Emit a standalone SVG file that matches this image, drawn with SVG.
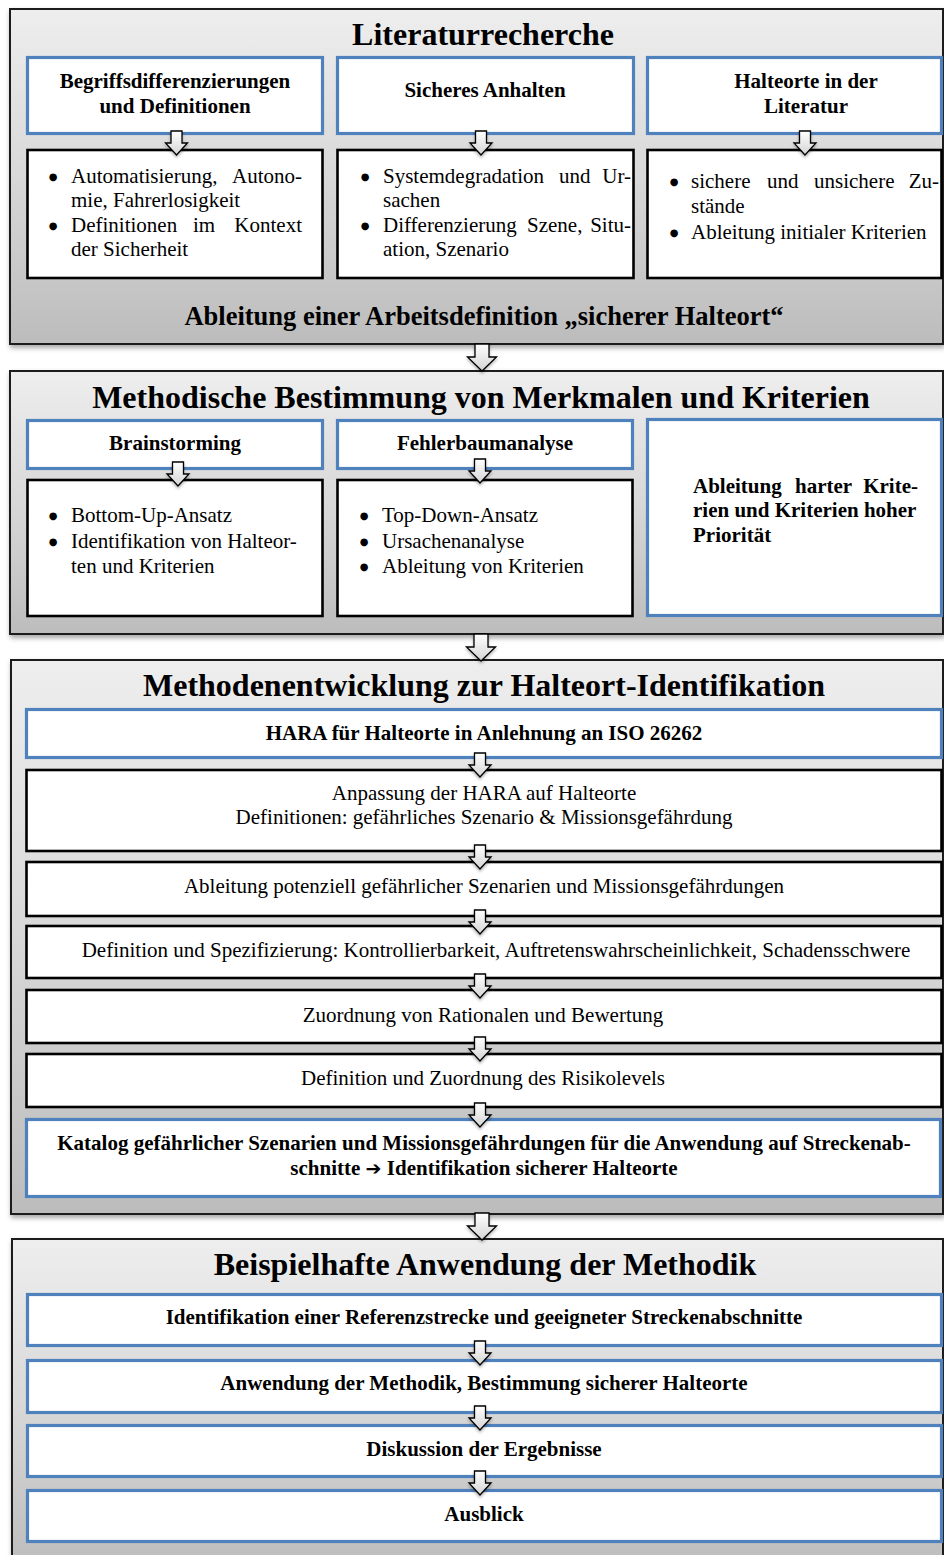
<svg xmlns="http://www.w3.org/2000/svg" xmlns:xlink="http://www.w3.org/1999/xlink" width="944" height="1555" viewBox="0 0 944 1555">
  <defs>
    <style>
      .t { font-family: "Liberation Serif", "Times New Roman", serif; fill: #000; }
      .h { font-size: 32px; font-weight: bold; text-anchor: middle; }
      .b { font-size: 21px; font-weight: bold; }
      .n { font-size: 21px; }
      .c { text-anchor: middle; }
      .e { text-anchor: end; }
      .bul { font-family: "DejaVu Sans", sans-serif; font-size: 10px; fill: #000; text-anchor: middle; }
      .sym { font-family: "DejaVu Sans", sans-serif; font-weight: bold; }
      .sec { fill: url(#secFill); stroke: #1a1a1a; stroke-width: 2; filter: url(#shadow); }
      .blue { fill: #fff; stroke: #4f81bd; stroke-width: 3.2; }
      .blk { fill: #fff; stroke: #000; stroke-width: 2.6; }
      .arr { fill: url(#arrFill); stroke: #000; stroke-width: 1.3; stroke-linejoin: miter; filter: url(#ashadow); }
    </style>
    <linearGradient id="secFill" x1="0" y1="0" x2="0" y2="1">
      <stop offset="0" stop-color="#eeeeee"/>
      <stop offset="0.5" stop-color="#d8d8d8"/>
      <stop offset="1" stop-color="#bcbcbc"/>
    </linearGradient>
    <linearGradient id="arrFill" x1="0" y1="0" x2="0" y2="1">
      <stop offset="0" stop-color="#ffffff"/>
      <stop offset="1" stop-color="#d4d4d4"/>
    </linearGradient>
    <filter id="shadow" x="-5%" y="-5%" width="110%" height="115%">
      <feDropShadow dx="1" dy="3" stdDeviation="2.5" flood-color="#000" flood-opacity="0.35"/>
    </filter>
    <filter id="ashadow" x="-50%" y="-30%" width="200%" height="170%">
      <feDropShadow dx="0" dy="2" stdDeviation="1.5" flood-color="#000" flood-opacity="0.3"/>
    </filter>
    <path id="arrS" class="arr" d="M-5.5,0H5.5V12H11L0,24L-11,12H-5.5Z"/>
    <path id="arrL" class="arr" d="M-7,0H7V13H14.5L0,27L-14.5,13H-7Z"/>
  </defs>

  <rect width="944" height="1555" fill="#fff"/>

  <!-- Section 1: literature review -->
  <g id="sec-literatur">
    <rect class="sec" x="10" y="9" width="933" height="335"/>
    <text class="t h" x="483" y="45">Literaturrecherche</text>
    <text class="t b c" x="484" y="325" style="font-size:26.5px">Ableitung einer Arbeitsdefinition „sicherer Halteort“</text>
  </g>

  <g id="lit-begriffe">
    <rect class="blue" x="27.5" y="57.5" width="295" height="76"/>
    <text class="t b c" x="175" y="88">Begriffsdifferenzierungen</text>
    <text class="t b c" x="175" y="113">und Definitionen</text>
  </g>
  <g id="lit-begriffe-detail">
    <rect class="blk" x="27.5" y="150" width="295" height="128"/>
    <text class="bul" x="53" y="180">●</text>
    <text class="t n" x="71" y="183">Automatisierung,</text>
    <text class="t n e" x="302" y="183">Autono-</text>
    <text class="t n" x="71" y="207">mie, Fahrerlosigkeit</text>
    <text class="bul" x="53" y="229">●</text>
    <text class="t n" x="71" y="232">Definitionen</text>
    <text class="t n" x="193" y="232">im</text>
    <text class="t n e" x="302" y="232">Kontext</text>
    <text class="t n" x="71" y="256">der Sicherheit</text>
  </g>

  <g id="lit-anhalten">
    <rect class="blue" x="337.5" y="57.5" width="296" height="76"/>
    <text class="t b c" x="485" y="97">Sicheres Anhalten</text>
  </g>
  <g id="lit-anhalten-detail">
    <rect class="blk" x="337.5" y="150" width="296" height="128"/>
    <text class="bul" x="365" y="180">●</text>
    <text class="t n" x="383" y="183">Systemdegradation</text>
    <text class="t n" x="559" y="183">und</text>
    <text class="t n e" x="631" y="183">Ur-</text>
    <text class="t n" x="383" y="207">sachen</text>
    <text class="bul" x="365" y="229">●</text>
    <text class="t n" x="383" y="232">Differenzierung</text>
    <text class="t n" x="527" y="232">Szene,</text>
    <text class="t n e" x="631" y="232">Situ-</text>
    <text class="t n" x="383" y="256">ation, Szenario</text>
  </g>

  <g id="lit-halteorte">
    <rect class="blue" x="647.5" y="57.5" width="294" height="76"/>
    <text class="t b c" x="806" y="88">Halteorte in der</text>
    <text class="t b c" x="806" y="113">Literatur</text>
  </g>
  <g id="lit-halteorte-detail">
    <rect class="blk" x="647.5" y="150" width="294" height="128"/>
    <text class="bul" x="674" y="185">●</text>
    <text class="t n" x="691" y="188">sichere</text>
    <text class="t n" x="767" y="188">und</text>
    <text class="t n" x="814" y="188">unsichere</text>
    <text class="t n e" x="939" y="188">Zu-</text>
    <text class="t n" x="691" y="213">stände</text>
    <text class="bul" x="674" y="236">●</text>
    <text class="t n" x="691" y="239">Ableitung initialer Kriterien</text>
  </g>

  <!-- Section 2: methodical determination of characteristics and criteria -->
  <g id="sec-merkmale">
    <rect class="sec" x="10" y="371" width="933" height="263"/>
    <text class="t h" x="481" y="408">Methodische Bestimmung von Merkmalen und Kriterien</text>
  </g>

  <g id="mk-brainstorming">
    <rect class="blue" x="27.5" y="420.5" width="295" height="48"/>
    <text class="t b c" x="175" y="450">Brainstorming</text>
  </g>
  <g id="mk-brainstorming-detail">
    <rect class="blk" x="27.5" y="480" width="295" height="136"/>
    <text class="bul" x="53" y="519">●</text>
    <text class="t n" x="71" y="522">Bottom-Up-Ansatz</text>
    <text class="bul" x="53" y="545">●</text>
    <text class="t n" x="71" y="548">Identifikation von Halteor-</text>
    <text class="t n" x="71" y="573">ten und Kriterien</text>
  </g>

  <g id="mk-fehlerbaum">
    <rect class="blue" x="337.5" y="420.5" width="295" height="48"/>
    <text class="t b c" x="485" y="450">Fehlerbaumanalyse</text>
  </g>
  <g id="mk-fehlerbaum-detail">
    <rect class="blk" x="337.5" y="480" width="295" height="136"/>
    <text class="bul" x="364" y="519">●</text>
    <text class="t n" x="382" y="522">Top-Down-Ansatz</text>
    <text class="bul" x="364" y="545">●</text>
    <text class="t n" x="382" y="548">Ursachenanalyse</text>
    <text class="bul" x="364" y="570">●</text>
    <text class="t n" x="382" y="573">Ableitung von Kriterien</text>
  </g>

  <g id="mk-harte-kriterien">
    <rect class="blue" x="647.5" y="419.5" width="294" height="196"/>
    <text class="t b" x="693" y="493">Ableitung</text>
    <text class="t b" x="795" y="493">harter</text>
    <text class="t b e" x="918" y="493">Krite-</text>
    <text class="t b" x="693" y="517">rien und Kriterien hoher</text>
    <text class="t b" x="693" y="542">Priorität</text>
  </g>

  <!-- Section 3: method development for stopping-location identification -->
  <g id="sec-methode">
    <rect class="sec" x="11" y="660" width="932" height="554"/>
    <text class="t h" x="484" y="696">Methodenentwicklung zur Halteort-Identifikation</text>
  </g>

  <g id="m-hara">
    <rect class="blue" x="26.5" y="709.5" width="915" height="48"/>
    <text class="t b c" x="484" y="740">HARA für Halteorte in Anlehnung an ISO 26262</text>
  </g>
  <g id="m-anpassung">
    <rect class="blk" x="26.5" y="770" width="915" height="81"/>
    <text class="t n c" x="484" y="800">Anpassung der HARA auf Halteorte</text>
    <text class="t n c" x="484" y="824">Definitionen: gefährliches Szenario &amp; Missionsgefährdung</text>
  </g>
  <g id="m-szenarien">
    <rect class="blk" x="26.5" y="862" width="915" height="54"/>
    <text class="t n c" x="484" y="893">Ableitung potenziell gefährlicher Szenarien und Missionsgefährdungen</text>
  </g>
  <g id="m-spezifizierung">
    <rect class="blk" x="26.5" y="926" width="915" height="52"/>
    <text class="t n c" x="496" y="957">Definition und Spezifizierung: Kontrollierbarkeit, Auftretenswahrscheinlichkeit, Schadensschwere</text>
  </g>
  <g id="m-rationale">
    <rect class="blk" x="26.5" y="990" width="915" height="53"/>
    <text class="t n c" x="483" y="1022">Zuordnung von Rationalen und Bewertung</text>
  </g>
  <g id="m-risikolevel">
    <rect class="blk" x="26.5" y="1054" width="915" height="53"/>
    <text class="t n c" x="483" y="1085">Definition und Zuordnung des Risikolevels</text>
  </g>
  <g id="m-katalog">
    <rect class="blue" x="26.5" y="1119.5" width="914" height="77"/>
    <text class="t b c" x="484" y="1150">Katalog gefährlicher Szenarien und Missionsgefährdungen für die Anwendung auf Streckenab-</text>
    <text class="t b c" x="484" y="1175">schnitte <tspan class="sym" font-size="19">➔</tspan> Identifikation sicherer Halteorte</text>
  </g>

  <!-- Section 4: example application -->
  <g id="sec-anwendung">
    <rect class="sec" x="12" y="1239" width="931" height="330"/>
    <text class="t h" x="485" y="1275">Beispielhafte Anwendung der Methodik</text>
  </g>

  <g id="a-referenzstrecke">
    <rect class="blue" x="27.5" y="1294.5" width="914" height="51"/>
    <text class="t b c" x="484" y="1324">Identifikation einer Referenzstrecke und geeigneter Streckenabschnitte</text>
  </g>
  <g id="a-bestimmung">
    <rect class="blue" x="27.5" y="1360.5" width="914" height="52"/>
    <text class="t b c" x="484" y="1390">Anwendung der Methodik, Bestimmung sicherer Halteorte</text>
  </g>
  <g id="a-diskussion">
    <rect class="blue" x="27.5" y="1425.5" width="914" height="51"/>
    <text class="t b c" x="484" y="1456">Diskussion der Ergebnisse</text>
  </g>
  <g id="a-ausblick">
    <rect class="blue" x="27.5" y="1490.5" width="914" height="51"/>
    <text class="t b c" x="484" y="1521">Ausblick</text>
  </g>

  <!-- Connectors: hollow block arrows -->
  <g id="connectors">
    <use href="#arrS" x="176.5" y="131"/>
    <use href="#arrS" x="481" y="131"/>
    <use href="#arrS" x="805" y="131"/>
    <use href="#arrL" x="482" y="344"/>
    <use href="#arrS" x="178" y="462"/>
    <use href="#arrS" x="480" y="459"/>
    <use href="#arrL" x="481" y="634"/>
    <use href="#arrS" x="480" y="753"/>
    <use href="#arrS" x="480" y="845"/>
    <use href="#arrS" x="480" y="910"/>
    <use href="#arrS" x="480" y="974"/>
    <use href="#arrS" x="480" y="1037"/>
    <use href="#arrS" x="480" y="1103"/>
    <use href="#arrL" x="482" y="1213"/>
    <use href="#arrS" x="480" y="1341"/>
    <use href="#arrS" x="480" y="1406"/>
    <use href="#arrS" x="480" y="1471"/>
  </g>
</svg>
